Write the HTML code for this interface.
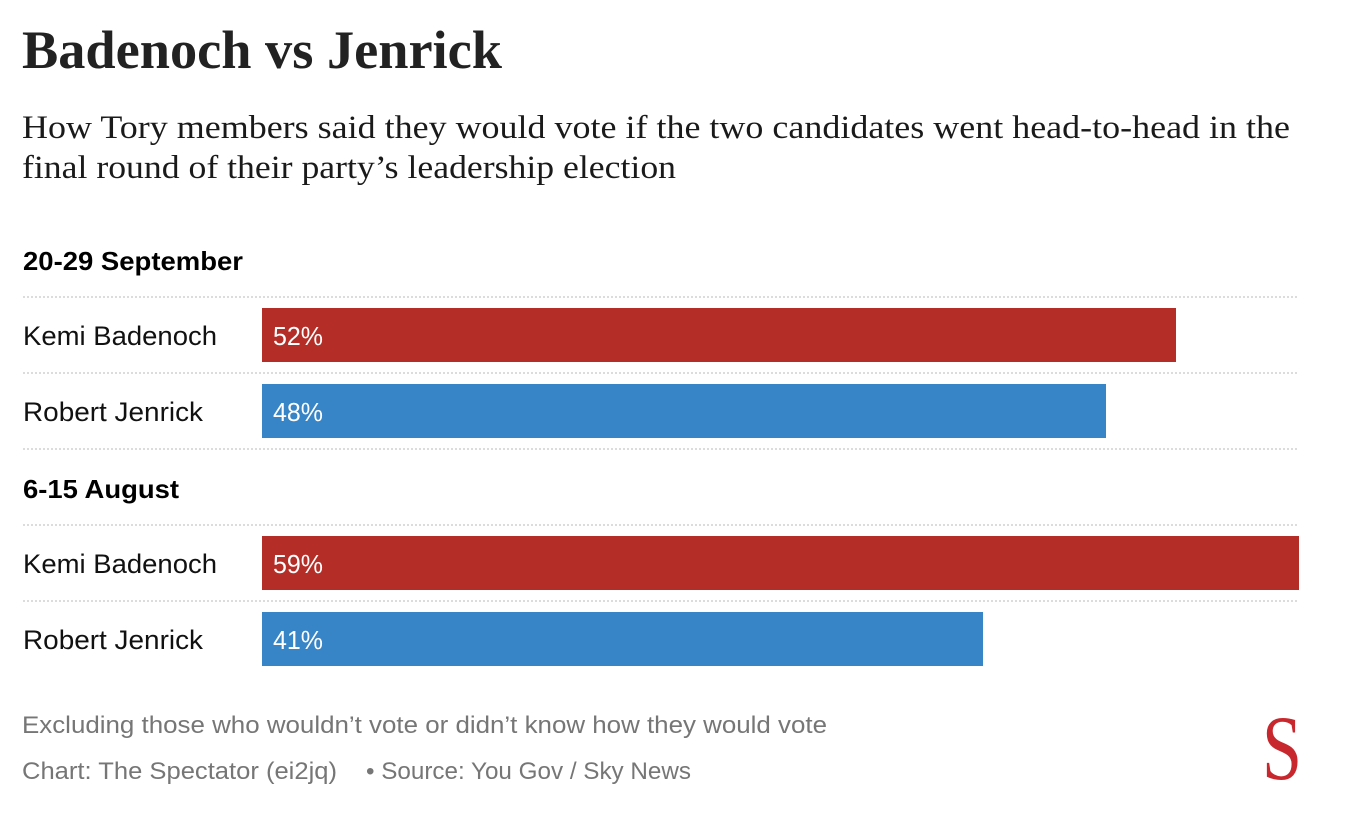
<!DOCTYPE html>
<html>
<head>
<meta charset="utf-8">
<style>
html,body{margin:0;padding:0;background:#fff;}
svg{display:block;}
</style>
</head>
<body>
<svg width="1346" height="830" viewBox="0 0 1346 830" xmlns="http://www.w3.org/2000/svg">
<rect x="0" y="0" width="1346" height="830" fill="#ffffff"/>

<!-- Title -->
<text x="22" y="68" font-family="Liberation Serif, serif" font-weight="bold" font-size="54" fill="#222222" textLength="480" lengthAdjust="spacingAndGlyphs">Badenoch vs Jenrick</text>

<!-- Subtitle -->
<text x="22" y="138" font-family="Liberation Serif, serif" font-size="33" fill="#1a1a1a" textLength="1268" lengthAdjust="spacingAndGlyphs">How Tory members said they would vote if the two candidates went head-to-head in the</text>
<text x="22" y="178" font-family="Liberation Serif, serif" font-size="33" fill="#1a1a1a" textLength="654" lengthAdjust="spacingAndGlyphs">final round of their party’s leadership election</text>

<!-- Group 1 -->
<text x="23" y="270" font-family="Liberation Sans, sans-serif" font-weight="bold" font-size="26" fill="#000000" textLength="220" lengthAdjust="spacingAndGlyphs">20-29 September</text>

<g stroke="#dcdcdc" stroke-width="2" stroke-dasharray="2,2">
  <line x1="23" y1="297" x2="1298" y2="297"/>
  <line x1="23" y1="373" x2="1298" y2="373"/>
  <line x1="23" y1="449" x2="1298" y2="449"/>
  <line x1="23" y1="525" x2="1298" y2="525"/>
  <line x1="23" y1="601" x2="1298" y2="601"/>
</g>

<text x="23" y="345" font-family="Liberation Sans, sans-serif" font-size="27" fill="#111111" textLength="194" lengthAdjust="spacingAndGlyphs">Kemi Badenoch</text>
<rect x="262" y="308" width="914" height="54" fill="#b42e27"/>
<text x="273" y="345" font-family="Liberation Sans, sans-serif" font-size="26" fill="#ffffff" textLength="50" lengthAdjust="spacingAndGlyphs">52%</text>

<text x="23" y="421" font-family="Liberation Sans, sans-serif" font-size="27" fill="#111111" textLength="180" lengthAdjust="spacingAndGlyphs">Robert Jenrick</text>
<rect x="262" y="384" width="844" height="54" fill="#3784c6"/>
<text x="273" y="421" font-family="Liberation Sans, sans-serif" font-size="26" fill="#ffffff" textLength="50" lengthAdjust="spacingAndGlyphs">48%</text>

<!-- Group 2 -->
<text x="23" y="498" font-family="Liberation Sans, sans-serif" font-weight="bold" font-size="26" fill="#000000" textLength="156" lengthAdjust="spacingAndGlyphs">6-15 August</text>

<text x="23" y="573" font-family="Liberation Sans, sans-serif" font-size="27" fill="#111111" textLength="194" lengthAdjust="spacingAndGlyphs">Kemi Badenoch</text>
<rect x="262" y="536" width="1037" height="54" fill="#b42e27"/>
<text x="273" y="573" font-family="Liberation Sans, sans-serif" font-size="26" fill="#ffffff" textLength="50" lengthAdjust="spacingAndGlyphs">59%</text>

<text x="23" y="649" font-family="Liberation Sans, sans-serif" font-size="27" fill="#111111" textLength="180" lengthAdjust="spacingAndGlyphs">Robert Jenrick</text>
<rect x="262" y="612" width="721" height="54" fill="#3784c6"/>
<text x="273" y="649" font-family="Liberation Sans, sans-serif" font-size="26" fill="#ffffff" textLength="50" lengthAdjust="spacingAndGlyphs">41%</text>

<!-- Footer -->
<text x="22" y="733" font-family="Liberation Sans, sans-serif" font-size="24" fill="#767676" textLength="805" lengthAdjust="spacingAndGlyphs">Excluding those who wouldn’t vote or didn’t know how they would vote</text>
<text x="22" y="779" font-family="Liberation Sans, sans-serif" font-size="24" fill="#767676" textLength="315" lengthAdjust="spacingAndGlyphs">Chart: The Spectator (ei2jq)</text>
<text x="366" y="779" font-family="Liberation Sans, sans-serif" font-size="24" fill="#767676" textLength="325" lengthAdjust="spacingAndGlyphs">• Source: You Gov / Sky News</text>

<!-- Spectator S logo -->
<text x="1262" y="779" font-family="Liberation Serif, serif" font-size="92" fill="#c8282d" textLength="40" lengthAdjust="spacingAndGlyphs">S</text>
</svg>
</body>
</html>
